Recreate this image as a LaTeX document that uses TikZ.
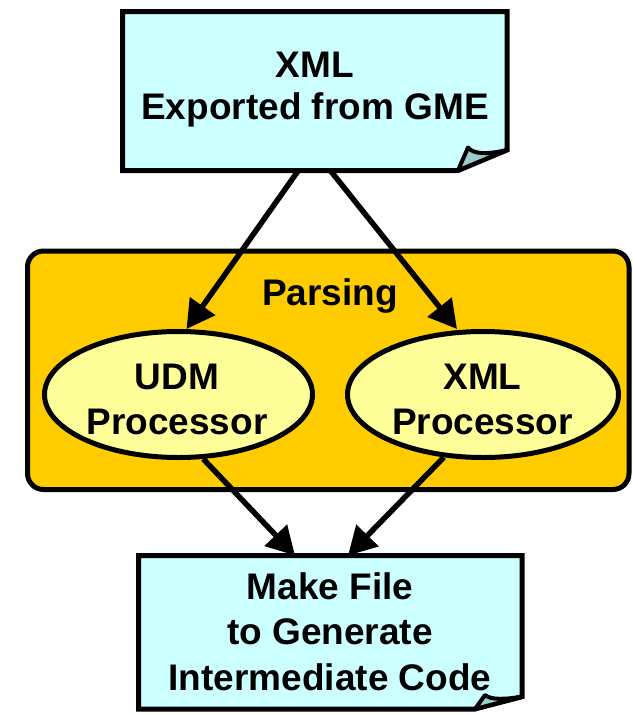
\documentclass[tikz,border=0pt]{standalone}
\usepackage{fontspec}
\setmainfont{Liberation Sans}
\usetikzlibrary{arrows.meta,shapes.geometric}
\definecolor{doccyan}{HTML}{CCFFFF}
\definecolor{parsegold}{HTML}{FFCC00}
\definecolor{elliyel}{HTML}{FFFF99}
\definecolor{curlteal}{HTML}{99CCCC}
\begin{document}
\begin{tikzpicture}[x=1pt,y=-1pt,
  lbl/.style={font=\fontsize{37}{#1}\selectfont\bfseries, align=center, inner sep=0pt},
  docrect/.style={rectangle, draw=none, inner sep=0pt, outer sep=0pt},
  docline/.style={draw=black, line width=5pt, fill=doccyan, line join=miter},
  curl/.style={draw=black, line width=4pt, fill=curlteal, line join=round},
  ellip/.style={ellipse, draw=black, line width=5pt, fill=elliyel, minimum height=126pt, inner sep=0pt},
  group/.style={rectangle, draw=black, line width=5pt, fill=parsegold, rounded corners=16pt, inner sep=0pt, outer sep=0pt},
  arr/.style={line width=5.5pt, -{Triangle[length=28pt,width=30pt]}}]
\useasboundingbox (0,0) rectangle (632,715);
\fill[white] (0,0) rectangle (632,715);

% Parsing group
\node[group, minimum width=601.5pt, minimum height=238.5pt] (parse) at (328.25,370.25) {};
\node[ellip, minimum width=268pt] (udm) at (178.5,394.5) {};
\node[ellip, minimum width=271pt] (xmlp) at (483,394.5) {};

% top document
\node[docrect, minimum width=384.3pt, minimum height=159pt] (top) at (314.85,91) {};
\coordinate (tB) at ([yshift=20.5pt]top.south east);
\coordinate (tC) at ([xshift=-49pt]top.south east);
\coordinate (tA) at ([xshift=-39pt,yshift=23pt]top.south east);
\draw[docline] (top.north west) -- (top.north east) -- (tB) -- (tC) -- (top.south west) -- cycle;
\draw[curl] (tC) -- (tA) .. controls ([xshift=-33pt,yshift=16pt]top.south east) and ([xshift=-20pt,yshift=16pt]top.south east) .. (tB) -- cycle;

% bottom document
\node[docrect, minimum width=383.5pt, minimum height=153.5pt] (bot) at (330.25,632.25) {};
\coordinate (bB) at ([yshift=12.3pt]bot.south east);
\coordinate (bC) at ([xshift=-47pt]bot.south east);
\coordinate (bA) at ([xshift=-37pt,yshift=14pt]bot.south east);
\draw[docline] (bot.north west) -- (bot.north east) -- (bB) -- (bC) -- (bot.south west) -- cycle;
\draw[curl] (bC) -- (bA) .. controls ([xshift=-31pt,yshift=9pt]bot.south east) and ([xshift=-18pt,yshift=9.5pt]bot.south east) .. (bB) -- cycle;

% texts
\node[lbl=42.7] (toptext) at (315,89.7) {XML\\Exported from GME};
\node[lbl=44] (parsetext) at (330,296.4) {Parsing};
\node[lbl=44.3] (udmtext) at (177,399.3) {UDM\\Processor};
\node[lbl=44.3] (xmltext) at (482.5,399.3) {XML\\Processor};
\node[lbl=45.5] (bottext) at (330,631.4) {Make File\\to Generate\\Intermediate Code};

% connectors
\draw[arr] ([xshift=-16.5pt]top.south) -- ([xshift=8pt]udm.north);
\draw[arr] ([xshift=15.5pt]top.south) -- ([xshift=-26pt]xmlp.north);
\draw[arr] (udm.-69) -- ([xshift=-35.25pt]bot.north);
\draw[arr] (xmlp.-122) -- ([xshift=17.75pt]bot.north);
\end{tikzpicture}
\end{document}
